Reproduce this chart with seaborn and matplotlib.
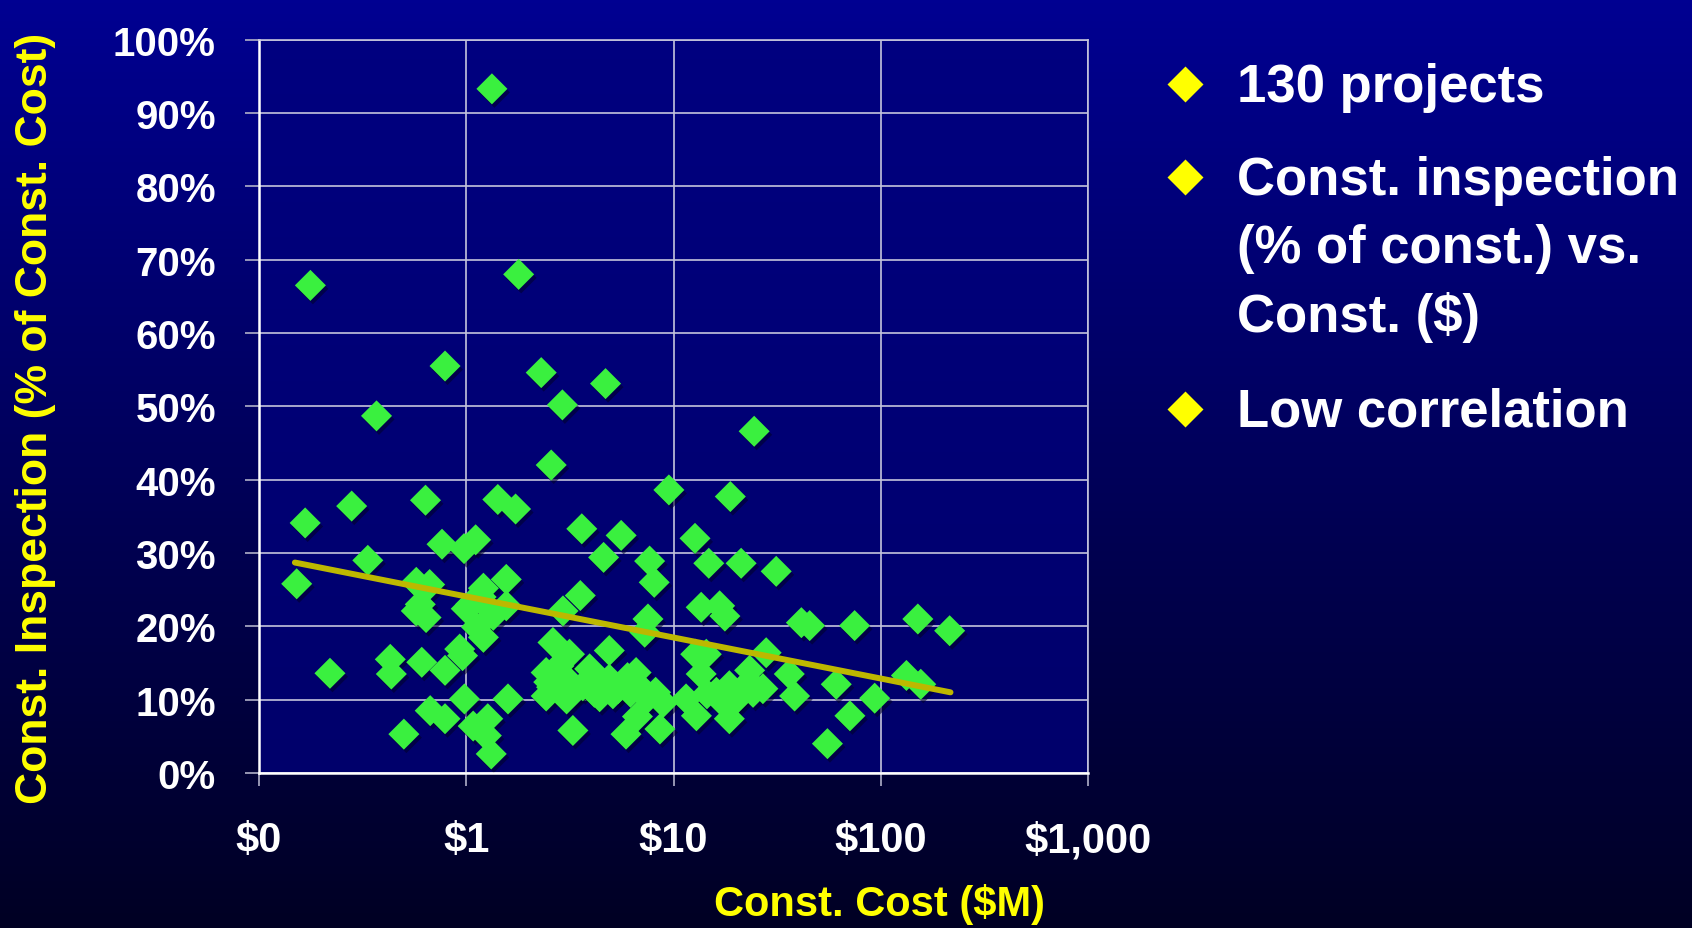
import matplotlib
matplotlib.use("Agg")
import matplotlib.pyplot as plt
from matplotlib.lines import Line2D
from matplotlib.transforms import offset_copy
import numpy as np
import pandas as pd
import seaborn as sns

# ---- data (cost in $M, inspection in % of const. cost) ----
const_cost = [1.33, 0.177, 1.79, 0.79, 0.369, 2.30, 2.91, 4.70, 2.57, 24.5,
              9.5, 18.8, 0.167, 0.280, 0.636, 1.42, 1.73, 3.61, 5.59, 0.764,
              0.976, 1.11, 0.335, 4.60, 12.7, 7.67, 14.8, 21.2, 31.3, 0.152,
              0.574, 0.666, 1.21, 1.56, 8.07, 0.574, 0.64, 1.0, 1.29, 1.56,
              3.55, 2.93, 13.6, 16.7, 17.7, 7.53, 7.26, 41.4, 45.4, 74.8,
              151, 215, 1.12, 1.21, 0.93, 0.96, 0.43, 0.435, 0.61, 0.79,
              0.22, 2.62, 3.15, 4.9, 2.43, 2.58, 2.43, 3.05, 3.94, 4.15,
              3.65, 4.9, 5.4, 6.6, 6.8, 8.2, 8.9, 6.7, 8.6, 5.9,
              3.27, 12.8, 14.4, 13.6, 23.3, 28.0, 11.5, 12.9, 16.1, 18.6,
              19.4, 18.6, 24.2, 23.3, 27.0, 36.2, 38.4, 61.0, 93.5, 71.0,
              55.3, 133, 156, 0.98, 1.59, 0.67, 0.79, 0.50, 1.08, 1.27,
              1.25, 1.32, 6.2, 2.7, 3.3, 4.4, 5.1, 3.0, 2.5, 7.5,
              6.0, 16.8, 20.0, 21.5, 14.5, 2.8, 1.05, 0.60, 1.35, 1.18]
inspection_pct = [93.3, 66.5, 68.0, 55.5, 48.7, 54.6, 50.2, 53.1, 42.0, 46.6,
                  38.6, 37.7, 34.1, 36.4, 37.2, 37.3, 36.0, 33.3, 32.4, 31.2,
                  30.6, 31.8, 29.0, 29.4, 32.0, 28.9, 28.6, 28.6, 27.5, 25.8,
                  26.0, 25.7, 25.2, 26.4, 26.0, 22.1, 21.2, 22.4, 22.4, 22.8,
                  24.2, 22.1, 22.6, 22.8, 21.4, 21.0, 19.2, 20.5, 20.1, 20.1,
                  21.0, 19.4, 19.9, 18.5, 16.9, 16.0, 15.5, 13.5, 15.1, 14.0,
                  13.6, 17.8, 16.2, 16.7, 13.7, 11.7, 10.5, 10.1, 14.2, 11.0,
                  11.9, 12.8, 11.5, 13.7, 11.9, 11.0, 9.6, 7.7, 6.0, 5.3,
                  5.8, 16.2, 16.2, 13.5, 14.0, 16.4, 10.1, 7.8, 11.0, 11.9,
                  9.6, 7.4, 11.0, 12.4, 11.5, 13.5, 10.5, 12.1, 10.2, 7.8,
                  4.0, 13.3, 12.1, 10.1, 10.1, 8.5, 7.4, 5.3, 6.4, 7.4,
                  5.1, 2.6, 11.0, 12.6, 11.3, 10.4, 10.8, 13.0, 12.4, 10.2,
                  13.0, 10.0, 10.5, 11.5, 10.8, 14.6, 23.0, 23.0, 21.5, 24.0]

# trendline end points as drawn in the picture
trend_cost = [0.149, 217]
trend_pct = [28.7, 11.0]

x_ticks = [0.1, 1, 10, 100, 1000]
x_tick_labels = ["$0", "$1", "$10", "$100", "$1,000"]
y_ticks = list(range(0, 101, 10))
y_tick_labels = [f"{v}%" for v in y_ticks]

# bullets: each entry is the list of wrapped lines of one bullet
bullets = [["130 projects"],
           ["Const. inspection", "(% of const.) vs.", "Const. ($)"],
           ["Low correlation"]]

df = pd.DataFrame({"cost": const_cost, "pct": inspection_pct})

sns.set_theme(style="dark")
plt.rcParams["font.family"] = ["Liberation Sans", "DejaVu Sans"]
plt.rcParams["font.weight"] = "bold"

W, H = 1692, 929
fig = plt.figure(figsize=(W / 100, H / 100), dpi=100)

# --- gradient background for slide + plot area ---
bg = fig.add_axes([0, 0, 1, 1], zorder=-10)
bg.set_axis_off()
bg.set_xlim(0, 1)
bg.set_ylim(0, 1)
t = np.linspace(0, 1, 256).reshape(-1, 1)
slide = np.dstack([np.zeros_like(t), np.zeros_like(t), 0.57 - 0.43 * t])
bg.imshow(slide, extent=(0, 1, 0, 1), aspect="auto", origin="upper")

ax_left, ax_right = 259 / W, 1088 / W
ax_bottom, ax_top = 1 - 774 / H, 1 - 40.7 / H
plot_fill = np.dstack([np.zeros_like(t), np.zeros_like(t), 0.50 - 0.08 * t])
bg.imshow(plot_fill, extent=(ax_left, ax_right, ax_bottom, ax_top),
          aspect="auto", origin="upper")

ax = fig.add_axes([ax_left, ax_bottom, ax_right - ax_left, ax_top - ax_bottom])
ax.set_facecolor("none")

# shadow under the markers
sns.scatterplot(data=df, x="cost", y="pct", marker="D", s=250,
                color="#000028", edgecolor="none", alpha=0.55, ax=ax,
                legend=False, zorder=2)
ax.collections[-1].set_offset_transform(
    offset_copy(ax.transData, fig=fig, x=2.5, y=-3.5, units="dots"))

sns.scatterplot(data=df, x="cost", y="pct", marker="D", s=250,
                color="#3af03f", edgecolor="none", ax=ax, legend=False,
                zorder=3)

ax.plot(trend_cost, trend_pct, color="#bdb800", lw=4.3,
        solid_capstyle="round", zorder=4)

ax.set_xscale("log")
ax.set_xlim(0.1, 1000)
ax.set_ylim(0, 100)
ax.set_xticks(x_ticks)
ax.set_xticklabels(x_tick_labels)
ax.xaxis.set_minor_locator(matplotlib.ticker.NullLocator())
ax.set_yticks(y_ticks)
ax.set_yticklabels(y_tick_labels)
ax.set_xlabel("")
ax.set_ylabel("")

ax.grid(True, color="#c4c4dc", lw=1.2)
ax.set_axisbelow(True)
for side in ["top", "right"]:
    ax.spines[side].set_color("#c4c4dc")
    ax.spines[side].set_linewidth(1.2)
for side in ["left", "bottom"]:
    ax.spines[side].set_color("white")
    ax.spines[side].set_linewidth(1.8)

ax.tick_params(axis="y", direction="out", length=10, width=1.2,
               color="#b0b0c8", pad=21, labelsize=29, labelcolor="white",
               left=True)
ax.tick_params(axis="x", direction="out", length=9, width=1.2,
               color="#b0b0c8", pad=25, labelsize=30, labelcolor="white",
               bottom=True)
for lab in ax.get_xticklabels() + ax.get_yticklabels():
    lab.set_fontweight("bold")

# axis titles
fig.text(36 / W, 1 - 418 / H, "Const. Inspection (% of Const. Cost)",
         rotation=90, ha="center", va="center", color="#ffff00",
         fontsize=32, fontweight="bold")
fig.text(879 / W, 1 - 905 / H, "Const. Cost ($M)", ha="center",
         va="center", color="#ffff00", fontsize=30, fontweight="bold")

# bullet list on the right
bullet_baselines = [[102], [195, 263, 332], [427]]
bullet_centres = [85, 178, 410]
for lines, bases, cen in zip(bullets, bullet_baselines, bullet_centres):
    fig.add_artist(Line2D([1185 / W], [1 - cen / H], marker="D",
                          markersize=18.5, color="#ffff00",
                          markeredgecolor="none", transform=fig.transFigure))
    for line, base in zip(lines, bases):
        fig.text(1237 / W, 1 - base / H, line, ha="left", va="baseline",
                 color="white", fontsize=38, fontweight="bold")

fig.savefig("out.png", dpi=100)
